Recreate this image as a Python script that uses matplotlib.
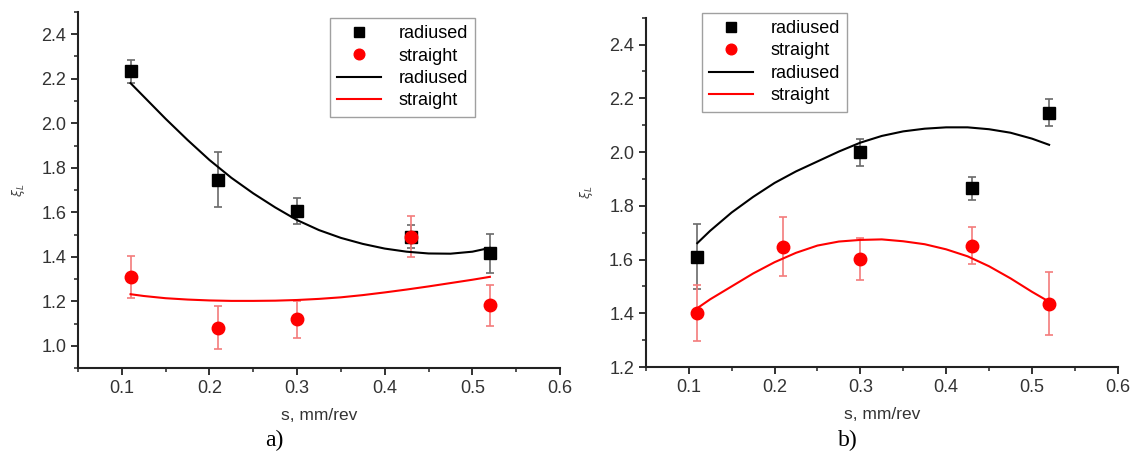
import numpy as np
import matplotlib
matplotlib.use("Agg")
import matplotlib.pyplot as plt
from matplotlib.ticker import MultipleLocator

plt.rcParams['font.family'] = ['Liberation Sans', 'DejaVu Sans']

# panel a) measured points
a_x_rad = [0.11, 0.21, 0.30, 0.43, 0.52]
a_y_rad = [2.233, 1.747, 1.605, 1.49, 1.416]
a_e_rad = [0.053, 0.122, 0.057, 0.052, 0.087]
a_x_str = [0.11, 0.21, 0.30, 0.43, 0.52]
a_y_str = [1.309, 1.082, 1.120, 1.49, 1.182]
a_e_str = [0.095, 0.095, 0.083, 0.093, 0.092]

# panel b) measured points
b_x_rad = [0.11, 0.30, 0.43, 0.52]
b_y_rad = [1.611, 1.999, 1.866, 2.146]
b_e_rad = [0.12, 0.051, 0.043, 0.05]
b_x_str = [0.11, 0.21, 0.30, 0.43, 0.52]
b_y_str = [1.402, 1.648, 1.602, 1.652, 1.435]
b_e_str = [0.105, 0.11, 0.08, 0.068, 0.117]

# fitted curves
fit_x = [0.11, 0.125, 0.15, 0.175, 0.2, 0.225, 0.25, 0.275, 0.3,
         0.325, 0.35, 0.375, 0.4, 0.425, 0.45, 0.475, 0.5, 0.52]
a_fit_rad = [2.18, 2.12, 2.02, 1.925, 1.835, 1.755, 1.685, 1.622, 1.565,
             1.52, 1.485, 1.458, 1.437, 1.423, 1.415, 1.414, 1.423, 1.44]
a_fit_str = [1.232, 1.224, 1.214, 1.208, 1.204, 1.202, 1.202, 1.203, 1.206,
             1.211, 1.218, 1.228, 1.24, 1.253, 1.267, 1.282, 1.297, 1.31]
b_fit_rad = [1.661, 1.707, 1.775, 1.833, 1.885, 1.928, 1.965, 2.002, 2.035,
             2.06, 2.077, 2.087, 2.092, 2.092, 2.085, 2.072, 2.05, 2.027]
b_fit_str = [1.419, 1.452, 1.50, 1.548, 1.59, 1.625, 1.652, 1.667, 1.673,
             1.675, 1.668, 1.657, 1.638, 1.612, 1.575, 1.53, 1.48, 1.443]

fig = plt.figure(figsize=(11.35, 4.59), dpi=100)
ax_a = fig.add_axes([0.0687, 0.198, 0.4247, 0.776])
ax_b = fig.add_axes([0.569, 0.2004, 0.4158, 0.761])


def draw_panel(ax, xr, yr, er, xs, ys, es, fr, fs, ylim):
    ax.errorbar(xr, yr, yerr=er, fmt='none', ecolor='#6a6a6a', elinewidth=1.2,
                capsize=3, capthick=1.2, zorder=2)
    ax.errorbar(xs, ys, yerr=es, fmt='none', ecolor='#f47c7c', elinewidth=1.2,
                capsize=3, capthick=1.2, zorder=2)
    h1, = ax.plot(xr, yr, 's', color='black', ms=8, zorder=4, label='radiused')
    h2, = ax.plot(xs, ys, 'o', color='red', ms=9, zorder=4, label='straight')
    h3, = ax.plot(fit_x, fr, '-', color='black', lw=1.5, zorder=3, label='radiused')
    h4, = ax.plot(fit_x, fs, '-', color='red', lw=1.5, zorder=3, label='straight')

    ax.set_xlim(0.05, 0.6)
    ax.set_ylim(*ylim)
    ax.xaxis.set_minor_locator(MultipleLocator(0.05))
    ax.yaxis.set_major_locator(MultipleLocator(0.2))
    ax.yaxis.set_minor_locator(MultipleLocator(0.1))
    ax.set_xticks([0.1, 0.2, 0.3, 0.4, 0.5, 0.6])
    ax.set_xticklabels(['0.1', '0.2', '0.3', '0.4', '0.5', '0.6'])

    for s in ['top', 'right']:
        ax.spines[s].set_visible(False)
    for s in ['left', 'bottom']:
        ax.spines[s].set_linewidth(1.5)
        ax.spines[s].set_color('#222222')
    ax.tick_params(which='major', direction='out', length=5, width=1.3,
                   labelsize=13, colors='#222222', labelcolor='#333333')
    ax.tick_params(which='minor', direction='out', length=3, width=1.1, colors='#222222')

    ax.set_xlabel('s, mm/rev', fontsize=12.5, color='#333333', labelpad=8)
    ax.set_ylabel(r'$\xi_L$', fontsize=9, color='#444444', labelpad=10)
    return [h1, h2, h3, h4]


hs = draw_panel(ax_a, a_x_rad, a_y_rad, a_e_rad, a_x_str, a_y_str, a_e_str,
                a_fit_rad, a_fit_str, (0.9, 2.5))
leg = ax_a.legend(handles=hs, loc='upper right', bbox_to_anchor=(0.824, 0.983),
                  borderaxespad=0, fontsize=13, frameon=True, fancybox=False,
                  edgecolor='#888888', handlelength=2.4, borderpad=0.4,
                  labelspacing=0.3, markerscale=0.85, handletextpad=1.0)
leg.get_frame().set_linewidth(1.0)

hs = draw_panel(ax_b, b_x_rad, b_y_rad, b_e_rad, b_x_str, b_y_str, b_e_str,
                b_fit_rad, b_fit_str, (1.2, 2.5))
leg = ax_b.legend(handles=hs, loc='upper left', bbox_to_anchor=(0.119, 1.014),
                  borderaxespad=0, fontsize=13, frameon=True, fancybox=False,
                  edgecolor='#888888', handlelength=2.4, borderpad=0.4,
                  labelspacing=0.3, markerscale=0.85, handletextpad=1.0)
leg.get_frame().set_linewidth(1.0)

# panel captions
fig.text(0.242, 0.041, 'a)', ha='center', va='center', fontsize=17,
         family='Liberation Serif')
fig.text(0.747, 0.041, 'b)', ha='center', va='center', fontsize=17,
         family='Liberation Serif')

fig.savefig('out.png', dpi=100)
